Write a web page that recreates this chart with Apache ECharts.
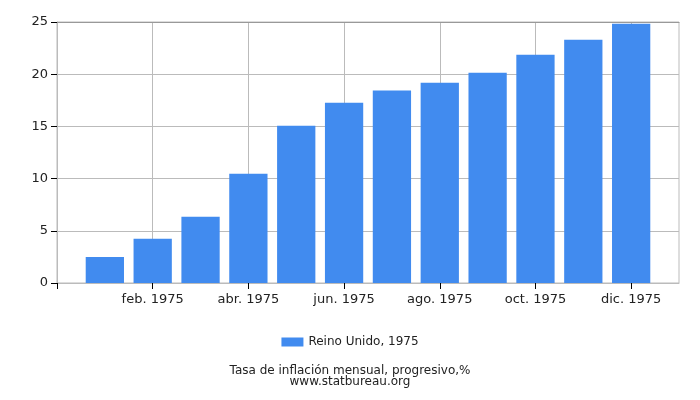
<!DOCTYPE html>
<html>
<head>
<meta charset="utf-8">
<script src="https://cdn.jsdelivr.net/npm/echarts@6/dist/echarts.min.js"></script>
<style>html,body{margin:0;padding:0;background:#fff}#c{width:700px;height:400px}</style>
</head>
<body>
<div id="c"></div>
<script>
const categories = ["", "ene. 1975", "feb. 1975", "mar. 1975", "abr. 1975", "may. 1975", "jun. 1975", "jul. 1975", "ago. 1975", "sep. 1975", "oct. 1975", "nov. 1975", "dic. 1975", ""];
const values = [null, 2.5, 4.25, 6.35, 10.47, 15.07, 17.27, 18.45, 19.19, 20.15, 21.87, 23.31, 24.84, null];
const yTicks = [0, 5, 10, 15, 20, 25];
const seriesName = "Reino Unido, 1975";
const titleText = "Tasa de inflación mensual, progresivo,%\nwww.statbureau.org";

const chart = echarts.init(document.getElementById('c'));
chart.setOption({
  animation: false,
  textStyle: { fontFamily: 'DejaVu Sans' },
  grid: { left: 57, right: 21, top: 22, bottom: 117, show: true, borderColor: '#bbbbbb', borderWidth: 1, backgroundColor: 'transparent' },
  title: {
    text: titleText,
    left: 'center', top: 360,
    textStyle: { fontSize: 12, fontWeight: 'normal', color: '#222', lineHeight: 11, fontFamily: 'DejaVu Sans' }
  },
  legend: {
    data: [{ name: seriesName, icon: 'rect' }],
    left: 'center', top: 331,
    itemWidth: 22, itemHeight: 9, itemGap: 4,
    textStyle: { fontSize: 12, color: '#222', fontFamily: 'DejaVu Sans' }
  },
  xAxis: [{
    type: 'category',
    data: categories,
    boundaryGap: false,
    axisLine: { lineStyle: { color: '#bbbbbb' } },
    axisTick: { interval: 1, length: 6, lineStyle: { color: '#000' } },
    axisLabel: { interval: 1, color: '#222', fontSize: 13, margin: 10, fontFamily: 'DejaVu Sans' },
    splitLine: { show: true, interval: 1, lineStyle: { color: '#bbbbbb' } }
  }, {
    type: 'category',
    data: categories,
    position: 'top',
    boundaryGap: false,
    axisLine: { show: true, lineStyle: { color: '#999999' } },
    axisTick: { show: false },
    axisLabel: { show: false },
    splitLine: { show: false }
  }],
  yAxis: {
    type: 'value',
    min: yTicks[0], max: yTicks[yTicks.length - 1], interval: 5,
    axisLine: { show: true, lineStyle: { color: '#bbbbbb' } },
    axisTick: { show: true, length: 6, lineStyle: { color: '#000' } },
    axisLabel: { color: '#222', fontSize: 13, margin: 9, fontFamily: 'DejaVu Sans' },
    splitLine: { lineStyle: { color: '#bbbbbb' } }
  },
  series: [{
    name: seriesName,
    type: 'bar',
    data: values,
    barWidth: '80%',
    itemStyle: { color: '#418bef' }
  }]
});
</script>
</body>
</html>
